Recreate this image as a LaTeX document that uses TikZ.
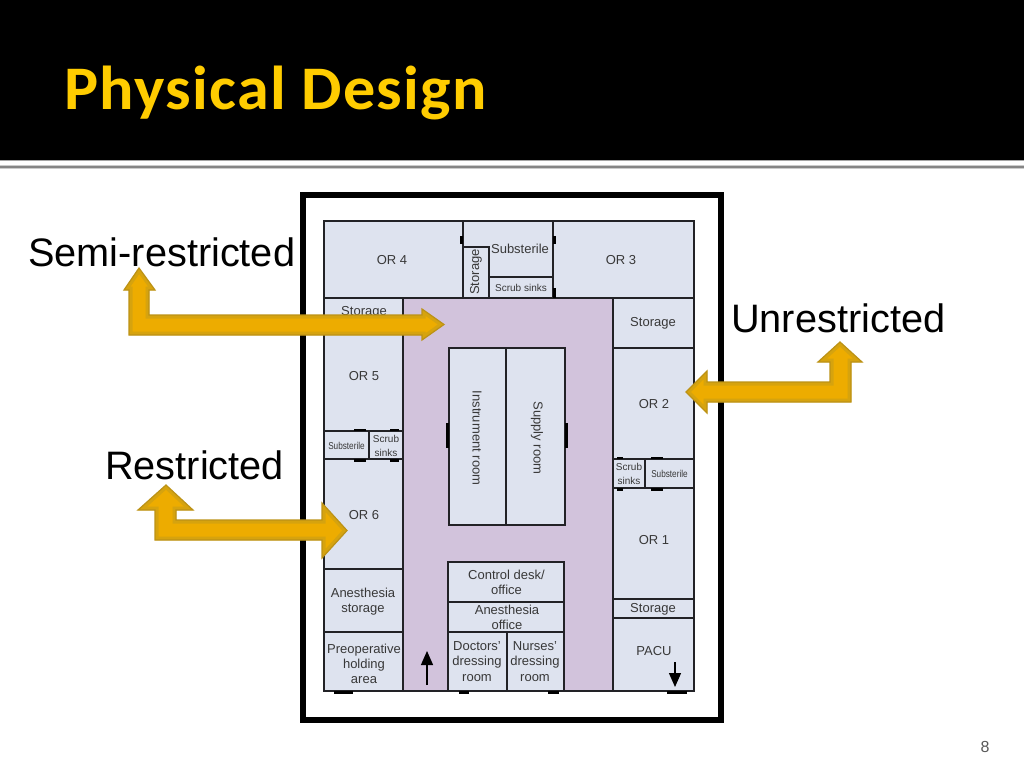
\documentclass[tikz,border=0pt]{standalone}
\usepackage{fontspec}
\setmainfont{Liberation Sans}
\newfontfamily\titlefont[LetterSpace=2]{Carlito}
\usetikzlibrary{arrows.meta}
\definecolor{roomfill}{HTML}{DEE3EF}
\definecolor{corridor}{HTML}{D2C3DC}
\definecolor{wallink}{HTML}{222226}
\definecolor{titlegold}{HTML}{FFCC00}
\definecolor{arrowfill}{HTML}{EDAC00}
\definecolor{arrowband}{HTML}{D6A30E}
\definecolor{arrowedge}{HTML}{BC9216}
\newcommand{\goldarrow}[1]{%
  \fill[arrowfill] #1;
  \begin{scope}\clip #1; \draw[arrowband,line width=7pt,miter limit=2] #1; \end{scope}
  \draw[arrowedge,line width=1.2pt,line join=miter] #1;}
\tikzset{
  x=1pt,y=-1pt,
  room/.style={fill=roomfill,draw=wallink,line width=1.5pt},
  door/.style={fill=black,draw=none},
  lbl/.style={font=\fontsize{13}{15.3}\selectfont,text=black!78,align=center,inner sep=0pt},
  lblsmall/.style={font=\fontsize{10}{13.5}\selectfont,text=black!78,align=center,inner sep=0pt},
  zone/.style={font=\fontsize{39.7}{44}\selectfont,text=black,anchor=base west,inner sep=0pt},
  flow/.style={-{Triangle[length=14pt,width=12pt]},line width=1.3pt,black}
}
\begin{document}
\begin{tikzpicture}
\useasboundingbox (0,0) rectangle (1024,768);
\fill[white] (0,0) rectangle (1024,768);
% header
\fill[black] (0,0) rectangle (1024,160);
\fill[gray!70] (0,160) rectangle (1024,161);
\fill[black!20] (0,164.5) rectangle (1024,168.5);
\fill[black!48] (0,165.5) rectangle (1024,167.5);
\node[anchor=base west,inner sep=0pt,text=titlegold,xscale=1.035,font=\titlefont\bfseries\fontsize{62}{64}\selectfont] (title) at (64,109) {Physical Design};
% frame
\draw[black,line width=6pt] (303,195) rectangle (721,720);
% rooms
\draw[room] (324,221) rectangle (463,298);
\draw[room] (463,221) rectangle (553,298);
\draw[room] (553,221) rectangle (694,298);
\draw[room] (463,247) rectangle (489,298);
\draw[room] (489,277) rectangle (553,298);
\fill[roomfill] (464,222) rectangle (488,246);
\draw[wallink,line width=1.5pt] (463,247) -- (489,247) -- (489,298);
% left column
\draw[room] (324,298) rectangle (403,431);
\draw[room] (324,431) rectangle (369,459);
\draw[room] (369,431) rectangle (403,459);
\draw[room] (324,459) rectangle (403,569);
\draw[room] (324,569) rectangle (403,632);
\draw[room] (324,632) rectangle (403,691);
% right column
\draw[room] (613,298) rectangle (694,348);
\draw[room] (613,348) rectangle (694,459);
\draw[room] (613,459) rectangle (645,488);
\draw[room] (645,459) rectangle (694,488);
\draw[room] (613,488) rectangle (694,599);
\draw[room] (613,599) rectangle (694,618);
\draw[room] (613,618) rectangle (694,691);
% corridor
\fill[corridor,draw=wallink,line width=1.5pt] (403,298) rectangle (613,691);
% centre rooms
\draw[room] (449,348) rectangle (506,525);
\draw[room] (506,348) rectangle (565,525);
\draw[room] (448,562) rectangle (564,602);
\draw[room] (448,602) rectangle (564,632);
\draw[room] (448,632) rectangle (507,691);
\draw[room] (507,632) rectangle (564,691);
% outer wall
\draw[wallink,line width=2.8pt] (324,221) rectangle (694,691);
% doors
\foreach \a/\b/\c/\d in {460/236/463/244, 553/236/556/244, 553/288/556/298,
  354/428.5/366/431, 390/428.5/399/431, 354/459/366/462, 390/459/399/462,
  617/456.5/623/459, 651/456.5/663/459, 617/488/623/491, 651/488/663/491,
  334/691/353/694, 459/691/469/694, 548/691/559/694, 667/691/687/694,
  446/423/449/448, 565/423/568/448}
  {\fill[door] (\a,\b) rectangle (\c,\d);}
% room labels
\node[lbl] (or4) at (392,260) {OR 4};
\node[lbl] (or3) at (621,260) {OR 3};
\node[lbl] (subtop) at (520,248.5) {Substerile};
\node[lbl,rotate=90] (stotop) at (476,272) {Storage};
\node[lblsmall] (scrubtop) at (521,287.5) {Scrub sinks};
\node[lbl] (stoleft) at (364,312) {Storage};
\node[lbl] (storight) at (653,323) {Storage};
\node[lbl] (or5) at (364,376.5) {OR 5};
\node[lbl] (or2) at (654,404) {OR 2};
\node[lbl,rotate=-90] (instr) at (477,438) {Instrument room};
\node[lbl,rotate=-90] (supply) at (537,438) {Supply room};
\node[lblsmall,xscale=.82] (subleft) at (346.5,445.5) {Substerile};
\node[lblsmall] (scrubleft) at (386,446) {Scrub\\sinks};
\node[lbl] (or6) at (364,515.5) {OR 6};
\node[lblsmall] (scrubright) at (629,474) {Scrub\\sinks};
\node[lblsmall,xscale=.82] (subright) at (669.5,474) {Substerile};
\node[lbl] (or1) at (654,540.5) {OR 1};
\node[lbl] (storight2) at (653,609) {Storage};
\node[lbl] (pacu) at (654,651) {PACU};
\node[lbl] (control) at (506.5,582.5) {Control desk/\\office};
\node[lbl] (anoff) at (507,617.5) {Anesthesia\\office};
\node[lbl] (doctors) at (477,661.5) {Doctors’\\dressing\\room};
\node[lbl] (nurses) at (535,661.5) {Nurses’\\dressing\\room};
\node[lbl] (anstor) at (363,601.5) {Anesthesia\\storage};
\node[lbl] (preop) at (364,664) {Preoperative\\holding\\area};
% flow arrows
\coordinate (upA) at (427,685); \coordinate (upB) at (427,651);
\coordinate (dnA) at (675,662); \coordinate (dnB) at (675,687);
\draw[flow] (upA) -- (upB);
\draw[flow] (dnA) -- (dnB);
% zone labels
\node[zone] (semi) at (28,266) {Semi-restricted};
\node[zone] (unres) at (731,332) {Unrestricted};
\node[zone] (restr) at (105,479) {Restricted};
% gold arrows
\goldarrow{(139,268) -- (155,290) -- (149,290) -- (149,315) -- (422,315) -- (422,309) -- (444,324.5) -- (422,340) -- (422,335) -- (129,335) -- (129,290) -- (124,290) -- cycle}
\goldarrow{(166,485) -- (193,510) -- (176,510) -- (176,520) -- (322,520) -- (322,503) -- (347,530.5) -- (322,558) -- (322,540) -- (155,540) -- (155,510) -- (138,510) -- cycle}
\goldarrow{(840,342) -- (862,362) -- (851,362) -- (851,402) -- (707,402) -- (707,413) -- (686,392) -- (707,371) -- (707,382) -- (830,382) -- (830,362) -- (818,362) -- cycle}
% page number
\node[anchor=base,inner sep=0pt,text=black!65,font=\fontsize{16}{18}\selectfont] (pageno) at (985,752) {8};
\end{tikzpicture}
\end{document}
